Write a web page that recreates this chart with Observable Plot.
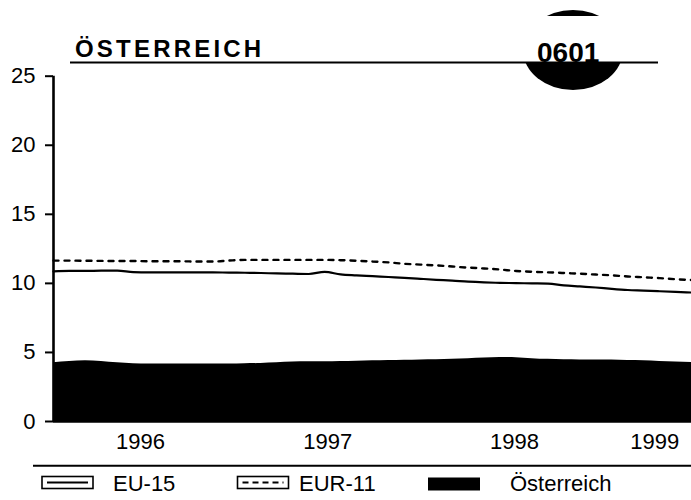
<!DOCTYPE html>
<html>
<head>
<meta charset="utf-8">
<script src="https://cdn.jsdelivr.net/npm/d3@7"></script>
<script src="https://cdn.jsdelivr.net/npm/@observablehq/plot@0.6"></script>
<style>
html,body{margin:0;padding:0;background:#fff;}
#wrap{position:relative;width:691px;height:500px;overflow:hidden;font-family:"Liberation Sans",Arial,Helvetica,sans-serif;}
#chart{position:absolute;left:0;top:0;}
#overlay{position:absolute;left:0;top:0;}
</style>
</head>
<body>
<div id="wrap">
  <div id="chart"></div>
  <svg id="overlay" width="691" height="500"></svg>
</div>
<script>
// Unemployment rate (%), monthly, Jan 1996 .. May 1999
const title = "ÖSTERREICH";
const code = "0601";
const seriesNames = ["EU-15", "EUR-11", "Österreich"];
const eu15 = [10.87,10.9,10.9,10.92,10.92,10.82,10.8,10.8,10.8,10.8,10.8,10.78,
              10.77,10.75,10.72,10.7,10.68,10.83,10.65,10.58,10.52,10.46,10.4,10.33,
              10.26,10.2,10.12,10.07,10.04,10.02,10.0,9.98,9.86,9.78,9.7,9.6,
              9.52,9.48,9.43,9.38,9.34];
const eur11 = [11.65,11.65,11.64,11.63,11.62,11.62,11.6,11.6,11.6,11.58,11.58,11.65,
               11.7,11.7,11.7,11.7,11.7,11.7,11.68,11.64,11.58,11.52,11.42,11.36,
               11.3,11.22,11.14,11.08,11.0,10.9,10.84,10.8,10.75,10.7,10.64,10.58,
               10.5,10.44,10.38,10.3,10.24];
const oesterreich = [4.25,4.35,4.4,4.35,4.25,4.18,4.16,4.16,4.16,4.16,4.16,4.16,
                     4.18,4.2,4.25,4.3,4.32,4.33,4.35,4.37,4.4,4.42,4.44,4.46,
                     4.47,4.5,4.55,4.6,4.64,4.62,4.55,4.5,4.47,4.46,4.45,4.45,
                     4.42,4.4,4.35,4.3,4.28];
const years = ["1996", "1997", "1998", "1999"];
const yearLabelAt = [5.45, 17.2, 28.9, 37.7]; // months since Jan 1996
const yTicks = [0, 5, 10, 15, 20, 25];

const rows = arr => arr.map((v, i) => ({m: i, v}));
const font = '"Liberation Sans", Arial, Helvetica, sans-serif';

const chart = Plot.plot({
  width: 691,
  height: 500,
  marginTop: 75.7,
  marginBottom: 79,
  marginLeft: 53,
  marginRight: 0,
  style: {fontFamily: font, fontSize: "22px", color: "black", background: "white"},
  x: {domain: [0, eu15.length - 1]},
  y: {domain: [0, 25]},
  marks: [
    Plot.areaY(rows(oesterreich), {x: "m", y: "v", fill: "black", curve: "monotone-x"}),
    Plot.lineY(rows(eu15), {x: "m", y: "v", stroke: "black", strokeWidth: 2.2, curve: "monotone-x"}),
    Plot.lineY(rows(eur11), {x: "m", y: "v", stroke: "black", strokeWidth: 2.4, strokeDasharray: "5,6", curve: "monotone-x"}),
    Plot.ruleY([0], {stroke: "black", strokeWidth: 2.5}),
    Plot.ruleX([0], {stroke: "black", strokeWidth: 2.6}),
    Plot.axisY({ticks: yTicks, tickSize: 8, tickPadding: 10, tickFormat: d => String(d),
                fontSize: 22, strokeWidth: 2, label: null}),
    Plot.axisX({ticks: yearLabelAt, tickSize: 0, tickPadding: 12,
                tickFormat: d => years[yearLabelAt.indexOf(d)], fontSize: 22, label: null})
  ]
});
document.getElementById("chart").appendChild(chart);

// Header and legend
const ov = d3.select("#overlay").style("font-family", font);
ov.append("ellipse").attr("cx", 573).attr("cy", 50).attr("rx", 50).attr("ry", 40).attr("fill", "#000");
ov.append("rect").attr("x", 515).attr("y", 16).attr("width", 120).attr("height", 46).attr("fill", "#fff");
ov.append("line").attr("x1", 70).attr("x2", 658).attr("y1", 62.5).attr("y2", 62.5)
  .attr("stroke", "#000").attr("stroke-width", 2);
ov.append("text").attr("x", 75).attr("y", 57).attr("font-weight", "bold").attr("font-size", 24)
  .attr("letter-spacing", 3.2).attr("fill", "#000").text(title);
ov.append("text").attr("x", 537).attr("y", 62).attr("font-weight", "bold").attr("font-size", 28)
  .attr("fill", "#000").text(code);

ov.append("line").attr("x1", 33).attr("x2", 691).attr("y1", 465.7).attr("y2", 465.7)
  .attr("stroke", "#000").attr("stroke-width", 2);
const legendX = [42, 237.5, 428];
const textX = [113, 299, 510];
seriesNames.forEach((name, i) => {
  const x = legendX[i];
  if (i < 2) {
    ov.append("rect").attr("x", x).attr("y", 476.5).attr("width", 51).attr("height", 12)
      .attr("fill", "#fff").attr("stroke", "#000").attr("stroke-width", 1.6);
    ov.append("line").attr("x1", x + 5).attr("x2", x + 46).attr("y1", 482.5).attr("y2", 482.5)
      .attr("stroke", "#000").attr("stroke-width", 2.2)
      .attr("stroke-dasharray", i === 1 ? "6,4" : null);
  } else {
    ov.append("rect").attr("x", x).attr("y", 477.5).attr("width", 52).attr("height", 13).attr("fill", "#000");
  }
  ov.append("text").attr("x", textX[i]).attr("y", 491).attr("font-size", 22).attr("fill", "#000").text(name);
});
</script>
</body>
</html>
